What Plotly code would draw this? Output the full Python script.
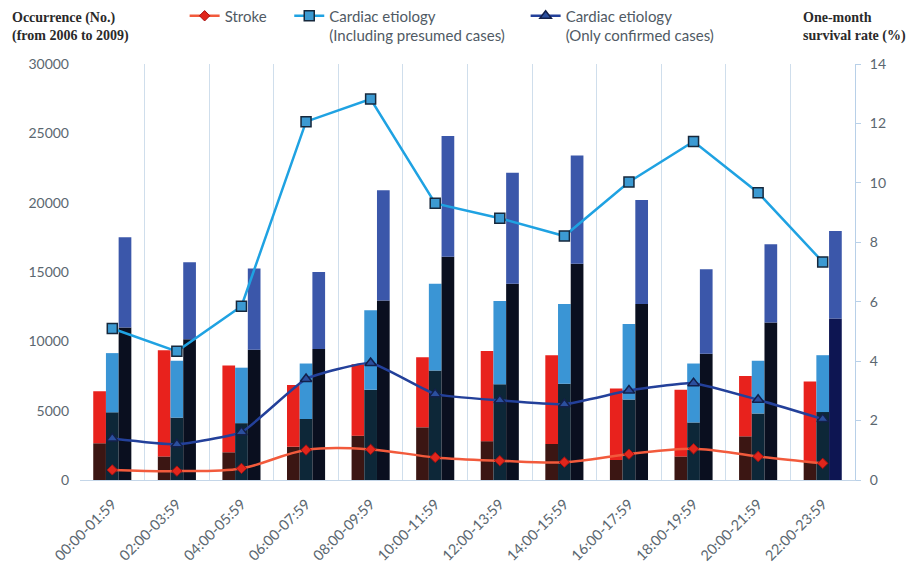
import plotly.graph_objects as go

# Two-hour time bands
time_bands = ["00:00-01:59", "02:00-03:59", "04:00-05:59", "06:00-07:59",
              "08:00-09:59", "10:00-11:59", "12:00-13:59", "14:00-15:59",
              "16:00-17:59", "18:00-19:59", "20:00-21:59", "22:00-23:59"]

# Occurrence counts: full bar height and the lower (darker) segment
stroke_total = [6400, 9350, 8250, 6850, 8350, 8850, 9300, 9000, 6600, 6500, 7500, 7100]
stroke_lower = [2650, 1700, 2000, 2400, 3200, 3800, 2800, 2600, 1450, 1700, 3150, 1300]
presumed_total = [9150, 8600, 8100, 8400, 12250, 14150, 12900, 12700, 11250, 8400, 8600, 9000]
presumed_lower = [4880, 4500, 4100, 4400, 6500, 7900, 6900, 6950, 5800, 4150, 4800, 4900]
confirmed_total = [17500, 15700, 15250, 15000, 20900, 24800, 22150, 23400, 20200, 15200, 17000, 17950]
confirmed_lower = [11000, 10150, 9400, 9450, 12950, 16100, 14150, 15600, 12700, 9100, 11350, 11650]

# One-month survival rate (%)
stroke_survival = [0.34, 0.30, 0.39, 1.01, 1.03, 0.76, 0.65, 0.60, 0.87, 1.05, 0.79, 0.56]
presumed_survival = [5.10, 4.33, 5.85, 12.06, 12.82, 9.31, 8.81, 8.21, 10.03, 11.39, 9.67, 7.34]
confirmed_survival = [1.40, 1.20, 1.61, 3.40, 3.94, 2.89, 2.68, 2.55, 3.01, 3.26, 2.70, 2.05]

x = list(range(len(time_bands)))

fig = go.Figure()

def stacked(group, lower, total, c_low, c_top):
    upper = [t - l for t, l in zip(total, lower)]
    fig.add_trace(go.Bar(x=x, y=lower, offsetgroup=group, marker_color=c_low,
                         marker_line_width=0, showlegend=False, hoverinfo="skip"))
    fig.add_trace(go.Bar(x=x, y=upper, base=lower, offsetgroup=group, marker_color=c_top,
                         marker_line_width=0, showlegend=False, hoverinfo="skip"))

stacked("s", stroke_lower, stroke_total, "#3b1613", "#e8221d")
stacked("p", presumed_lower, presumed_total, "#0d2738", "#3a95d5")
stacked("c", confirmed_lower, confirmed_total,
        ["#0a0f1f"] * 11 + ["#0d1552"], "#3b57aa")

fig.add_trace(go.Scatter(
    x=x, y=stroke_survival, yaxis="y2", name="Stroke", legend="legend",
    mode="lines+markers", line=dict(color="#f25a3c", width=2.5, shape="spline"),
    marker=dict(symbol="diamond", size=8, color="#e0261c",
                line=dict(color="#a81010", width=1))))
fig.add_trace(go.Scatter(
    x=x, y=presumed_survival, yaxis="y2",
    name="Cardiac etiology<br>(Including presumed cases)", legend="legend2",
    mode="lines+markers", line=dict(color="#1fa2e2", width=2.5),
    marker=dict(symbol="square", size=10, color="#3c9ad2",
                line=dict(color="#16283c", width=1.5))))
fig.add_trace(go.Scatter(
    x=x, y=confirmed_survival, yaxis="y2",
    name="Cardiac etiology<br>(Only confirmed cases)", legend="legend3",
    mode="lines+markers", line=dict(color="#23409a", width=2.5, shape="spline", smoothing=0.4),
    marker=dict(symbol="triangle-up", size=10, color="#2b4f9e",
                line=dict(color="#13204a", width=1.5))))

tick_font = dict(family="Lato", size=14, color="#5b6770")
legend_common = dict(orientation="v", valign="top", yanchor="top", xanchor="left",
                     bgcolor="rgba(0,0,0,0)", y=1.155,
                     font=dict(family="Lato", size=15, color="#505a64"))

fig.update_layout(
    width=908, height=565,
    margin=dict(l=80, r=53, t=64, b=85, autoexpand=False),
    paper_bgcolor="white", plot_bgcolor="white",
    barmode="group", bargap=0.41, bargroupgap=0,
    xaxis=dict(range=[-0.5, 11.5], tickmode="array", tickvals=x, ticktext=time_bands,
               tickangle=-45, tickfont=dict(family="Lato", size=14.5, color="#5b6770"),
               showgrid=False, zeroline=False, ticklabelstandoff=9, automargin=False,
               showline=True, linecolor="#c4d6e8", linewidth=1, ticks="",
               minor=dict(tickmode="array", tickvals=[i - 0.5 for i in range(13)],
                          showgrid=True, gridcolor="#cfdeec", gridwidth=1, ticks="")),
    yaxis=dict(range=[0, 30000], dtick=5000, tickformat="d", showgrid=False, zeroline=False,
               showline=False, tickfont=tick_font, ticks="", ticklabelstandoff=10,
               automargin=False),
    yaxis2=dict(range=[0, 14], dtick=2, overlaying="y", side="right", showgrid=False,
                zeroline=False, showline=True, linecolor="#b8d0e8", linewidth=1,
                ticks="outside", ticklen=5, tickcolor="#b8d0e8", tickfont=tick_font,
                ticklabelstandoff=6, automargin=False),
    legend=dict(x=0.135, **legend_common),
    legend2=dict(x=0.27, **legend_common),
    legend3=dict(x=0.575, **legend_common),
    annotations=[
        dict(text="<b>Occurrence (No.)<br>(from 2006 to 2009)</b>", xref="paper", yref="paper",
             x=-0.09, y=1.135, xanchor="left", yanchor="top", showarrow=False, align="left",
             font=dict(family="Liberation Serif", size=14, color="#2a2a2a")),
        dict(text="<b>One-month<br>survival rate (%)</b>", xref="paper", yref="paper",
             x=0.93, y=1.135, xanchor="left", yanchor="top", showarrow=False, align="left",
             font=dict(family="Liberation Serif", size=14, color="#2a2a2a")),
    ],
)

fig.write_html("out.html")
